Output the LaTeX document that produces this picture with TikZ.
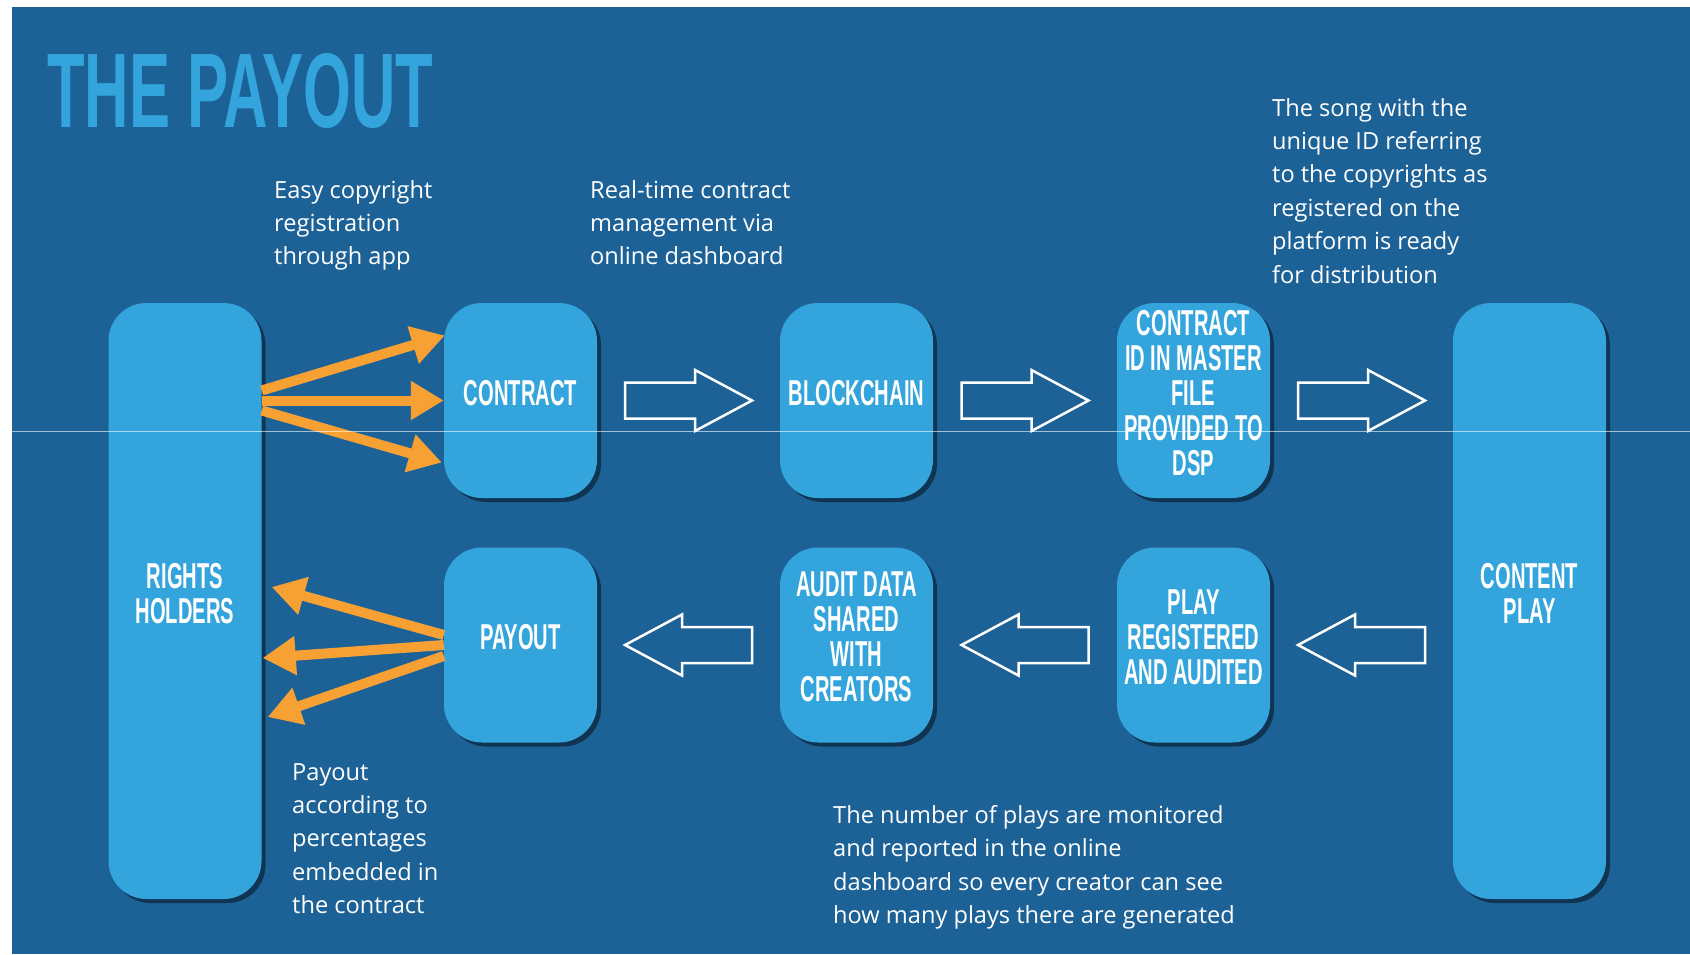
\documentclass[tikz,border=0pt]{standalone}
\usepackage{fontspec}
\setmainfont{Open Sans}
\newfontfamily\condfont[FakeStretch=0.56]{Liberation Sans}
\newfontfamily\titlefont[FakeStretch=0.58]{Liberation Sans}
\usetikzlibrary{shadows,arrows.meta,calc}
\definecolor{bgblue}{RGB}{29,98,151}
\definecolor{boxblue}{RGB}{52,164,221}
\definecolor{arrorange}{RGB}{247,160,51}
\begin{document}
\begin{tikzpicture}[x=1pt,y=-1pt,
  box/.style={fill=boxblue, rounded corners=38pt, inner sep=0pt, text=white,
    font=\condfont\bfseries\fontsize{36}{35}\selectfont, align=center, text depth=16pt,
    minimum width=153pt, minimum height=195pt,
    drop shadow={shadow xshift=4pt,shadow yshift=-4pt,opacity=.45,fill=black}},
  tallbox/.style={box, minimum height=596pt},
  desc/.style={text=white, align=left, inner sep=0pt, anchor=north west,
    font=\fontsize{23.6}{33.4}\selectfont},
  oarr/.style={draw=arrorange, line width=10pt, -{Triangle[length=33pt,width=37pt]}},
  hollow/.style={draw=white, line width=2.5pt, line join=miter},
  pics/rblk/.style={code={\draw[hollow] (-63.5,-18) -- (6.5,-18) -- (6.5,-30.5) -- (63.5,0) -- (6.5,30.5) -- (6.5,18) -- (-63.5,18) -- cycle;}},
  pics/lblk/.style={code={\draw[hollow] (63.5,-18) -- (-6.5,-18) -- (-6.5,-30.5) -- (-63.5,0) -- (-6.5,30.5) -- (-6.5,18) -- (63.5,18) -- cycle;}}
]
\useasboundingbox (0,0) rectangle (1690,954);
\fill[white] (0,0) rectangle (1690,954);
\fill[bgblue] (12,7) rectangle (1690,954);

\node[anchor=base west, inner sep=0pt, text=boxblue,
  font=\titlefont\bfseries\fontsize{106}{106}\selectfont] (title) at (47,127) {THE PAYOUT};

\node[tallbox] (rh) at (185,601) {RIGHTS\\HOLDERS};
\node[tallbox] (cp) at (1529.5,601) {CONTENT\\PLAY};
\node[box] (contract) at (520.5,400.5) {CONTRACT};
\node[box] (blockchain) at (856.5,400.5) {BLOCKCHAIN};
\node[box] (cid) at (1193.5,400.5) {CONTRACT\\ID IN MASTER\\FILE\\PROVIDED TO\\DSP};
\node[box] (payout) at (520.5,645) {PAYOUT};
\node[box] (audit) at (856.5,645) {AUDIT DATA\\SHARED\\WITH\\CREATORS};
\node[box] (play) at (1193.5,645) {PLAY\\REGISTERED\\AND AUDITED};

\pic at ($(contract.east)!.5!(blockchain.west)$) {rblk};
\pic at ($(blockchain.east)!.5!(cid.west)$) {rblk};
\pic at ($(cid.east)!.5!(cp.west |- cid.east)$) {rblk};
\pic at ($(payout.east)!.5!(audit.west)$) {lblk};
\pic at ($(audit.east)!.5!(play.west)$) {lblk};
\pic at ($(play.east)!.5!(cp.west |- play.east)$) {lblk};

\draw[oarr] ($(rh.east |- contract.west)+(0,-10)$) -- ($(contract.west)+(1,-65)$);
\draw[oarr] (rh.east |- contract.west) -- (contract.west);
\draw[oarr] ($(rh.east |- contract.west)+(0,10)$) -- ($(contract.west)+(-2,62)$);
\draw[oarr] ($(payout.west)+(0,-10)$) -- ($(rh.east |- payout.west)+(10,-58)$);
\draw[oarr] (payout.west) -- ($(rh.east |- payout.west)+(1,13)$);
\draw[oarr] ($(payout.west)+(0,11)$) -- ($(rh.east |- payout.west)+(6,72)$);

\node[desc] (t1) at (274,180) {Easy copyright\\registration\\through app};
\node[desc] (t2) at (590,180) {Real-time contract\\management via\\online dashboard};
\node[desc] (t3) at (1272,98) {The song with the\\unique ID referring\\to the copyrights as\\registered on the\\platform is ready\\for distribution};
\node[desc] (t4) at (292,763) {Payout\\according to\\percentages\\embedded in\\the contract};
\node[desc] (t5) at (833,805) {The number of plays are monitored\\and reported in the online\\dashboard so every creator can see\\how many plays there are generated};

\draw[white, opacity=.6, line width=1.5pt] (12,431.5) -- (1690,431.5);
\end{tikzpicture}
\end{document}
